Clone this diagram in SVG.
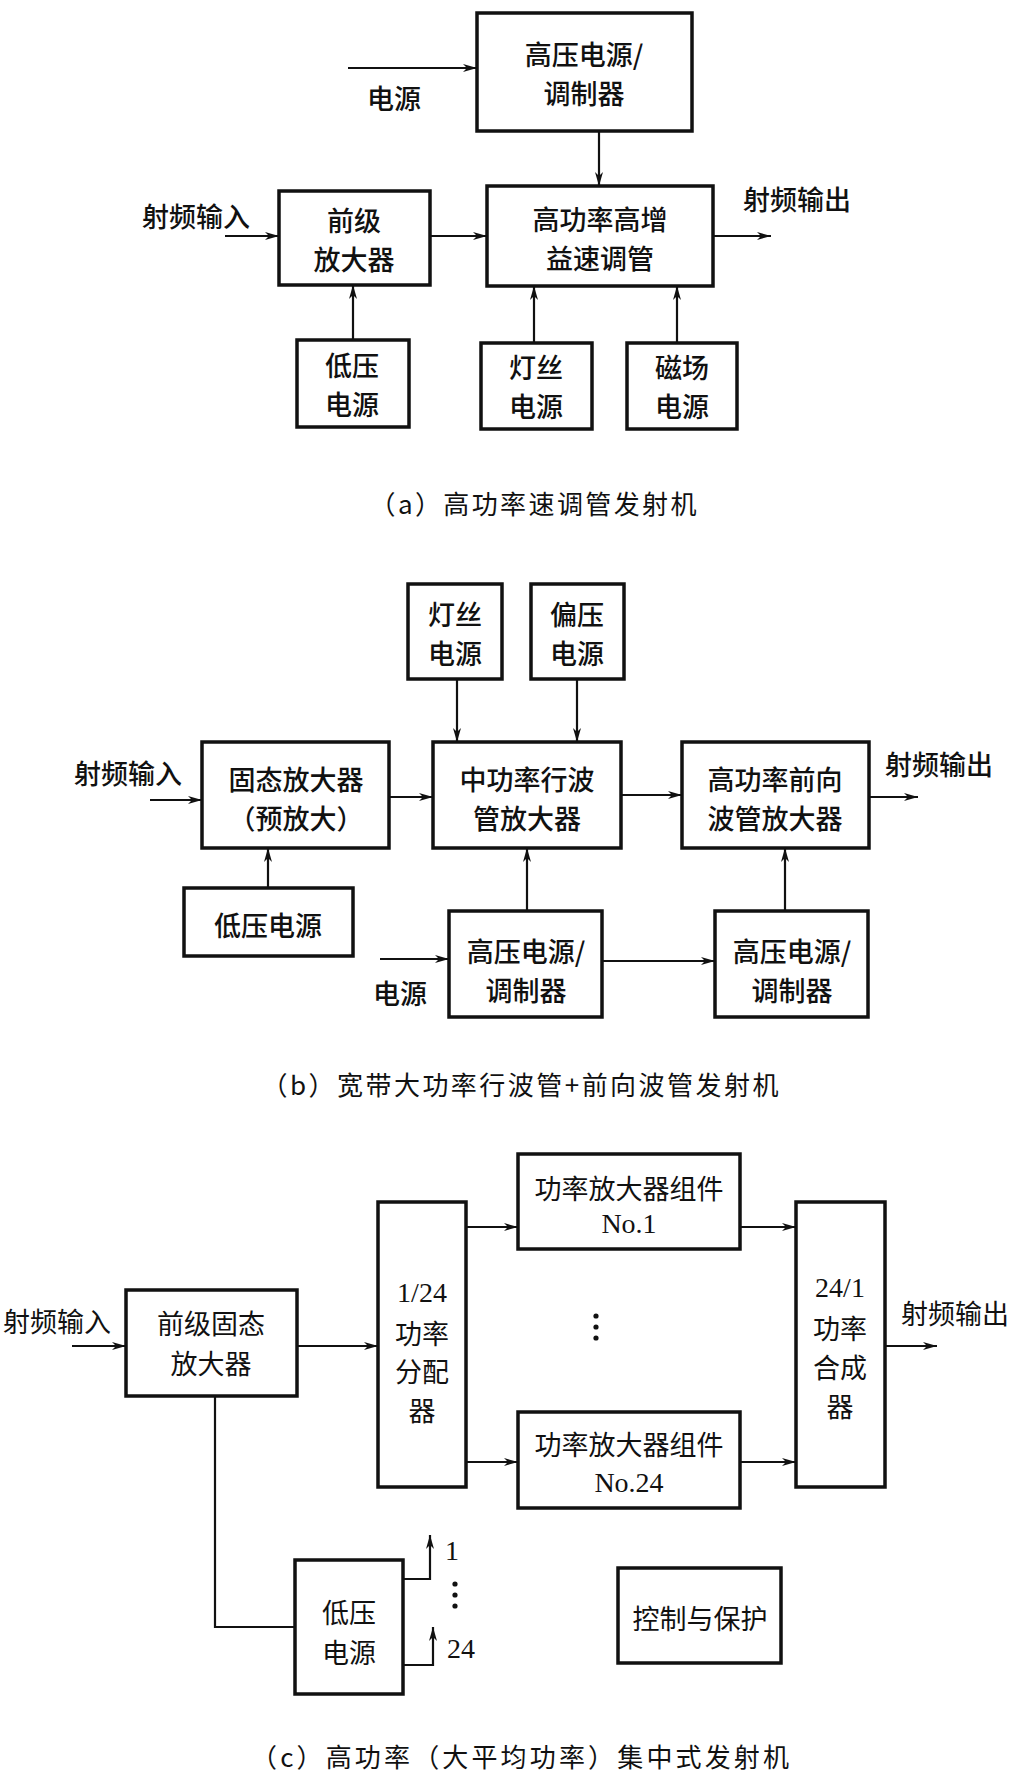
<svg xmlns="http://www.w3.org/2000/svg" width="1023" height="1778" viewBox="0 0 1023 1778">
<defs>
<marker id="ah" markerUnits="userSpaceOnUse" markerWidth="16" markerHeight="10" refX="14" refY="5" orient="auto">
<path d="M0,1 L14,5 L0,9 L4,5 z" fill="#111"/>
</marker>
<style>
.box{fill:#fff;stroke:#111;stroke-width:3.5}
.ln{fill:none;stroke:#111;stroke-width:2.2}
.ar{fill:none;stroke:#111;stroke-width:2.2;marker-end:url(#ah)}
text{font-family:"Noto Sans CJK SC","Liberation Sans",sans-serif;fill:#111;font-size:27px;text-anchor:middle;dominant-baseline:central}
.hb text{font-weight:500}
.cap{font-size:26px}
.num{font-family:"Liberation Serif","Noto Sans CJK SC",serif;font-size:28px}
</style>
</defs>
<rect width="1023" height="1778" fill="#fff"/>

<!-- ===== (a) ===== -->
<g class="hb">
<g id="a_hv"><rect class="box" x="477" y="13" width="215" height="118"/><text x="584" y="53">高压电源/</text><text x="584" y="92">调制器</text></g>
<g id="a_pre"><rect class="box" x="279" y="191" width="151" height="94"/><text x="354" y="219">前级</text><text x="354" y="258">放大器</text></g>
<g id="a_kly"><rect class="box" x="487" y="186" width="226" height="100"/><text x="600" y="218">高功率高增</text><text x="600" y="257">益速调管</text></g>
<g id="a_lv"><rect class="box" x="297" y="340" width="112" height="87"/><text x="352" y="364">低压</text><text x="352" y="403">电源</text></g>
<g id="a_fil"><rect class="box" x="481" y="343" width="111" height="86"/><text x="536" y="366">灯丝</text><text x="536" y="405">电源</text></g>
<g id="a_mag"><rect class="box" x="627" y="343" width="110" height="86"/><text x="682" y="366">磁场</text><text x="682" y="405">电源</text></g>
<g id="a_labels"><text x="394" y="97">电源</text><text x="196" y="215">射频输入</text><text x="797" y="198">射频输出</text></g>
</g>
<text class="cap" x="533" y="502" textLength="327" lengthAdjust="spacing">（a）高功率速调管发射机</text>

<!-- ===== (b) ===== -->
<g class="hb">
<g id="b_fil"><rect class="box" x="408" y="584" width="94" height="95"/><text x="455" y="613">灯丝</text><text x="455" y="652">电源</text></g>
<g id="b_bias"><rect class="box" x="531" y="584" width="93" height="95"/><text x="577" y="613">偏压</text><text x="577" y="652">电源</text></g>
<g id="b_ss"><rect class="box" x="202" y="742" width="187" height="106"/><text x="296" y="778">固态放大器</text><text x="296" y="817">（预放大）</text></g>
<g id="b_twt"><rect class="box" x="433" y="742" width="188" height="106"/><text x="527" y="778">中功率行波</text><text x="527" y="817">管放大器</text></g>
<g id="b_cfa"><rect class="box" x="682" y="742" width="187" height="106"/><text x="775" y="778">高功率前向</text><text x="775" y="817">波管放大器</text></g>
<g id="b_lv"><rect class="box" x="184" y="888" width="169" height="68"/><text x="268" y="924">低压电源</text></g>
<g id="b_hv1"><rect class="box" x="449" y="911" width="153" height="106"/><text x="526" y="950">高压电源/</text><text x="526" y="989">调制器</text></g>
<g id="b_hv2"><rect class="box" x="715" y="911" width="153" height="106"/><text x="792" y="950">高压电源/</text><text x="792" y="989">调制器</text></g>
<g id="b_labels"><text x="400" y="992">电源</text><text x="128" y="772">射频输入</text><text x="939" y="763">射频输出</text></g>
</g>
<text class="cap" x="520" y="1083" textLength="517" lengthAdjust="spacing">（b）宽带大功率行波管+前向波管发射机</text>

<!-- ===== (c) ===== -->
<g id="c_pre"><rect class="box" x="126" y="1290" width="171" height="106"/><text x="211" y="1322">前级固态</text><text x="211" y="1362">放大器</text></g>
<g id="c_div"><rect class="box" x="378" y="1202" width="88" height="285"/><text class="num" x="422" y="1292">1/24</text><text x="422" y="1332">功率</text><text x="422" y="1370">分配</text><text x="422" y="1409">器</text></g>
<g id="c_pa1"><rect class="box" x="518" y="1154" width="222" height="95"/><text x="629" y="1187">功率放大器组件</text><text class="num" x="629" y="1223">No.1</text></g>
<g id="c_pa24"><rect class="box" x="518" y="1412" width="222" height="96"/><text x="629" y="1443">功率放大器组件</text><text class="num" x="629" y="1482">No.24</text></g>
<g id="c_comb"><rect class="box" x="796" y="1202" width="89" height="285"/><text class="num" x="840" y="1287">24/1</text><text x="840" y="1327">功率</text><text x="840" y="1366">合成</text><text x="840" y="1405">器</text></g>
<g id="c_lv"><rect class="box" x="295" y="1560" width="108" height="134"/><text x="349" y="1611">低压</text><text x="349" y="1651">电源</text></g>
<g id="c_ctl"><rect class="box" x="618" y="1568" width="163" height="95"/><text x="700" y="1617">控制与保护</text></g>
<g id="c_labels"><text x="57" y="1320">射频输入</text><text x="955" y="1312">射频输出</text>
<text class="num" x="452" y="1550">1</text><text class="num" x="461" y="1648">24</text>
<circle cx="596" cy="1316" r="2.6" fill="#111"/><circle cx="596" cy="1327" r="2.6" fill="#111"/><circle cx="596" cy="1338" r="2.6" fill="#111"/>
<circle cx="455" cy="1584" r="2.6" fill="#111"/><circle cx="455" cy="1595" r="2.6" fill="#111"/><circle cx="455" cy="1606" r="2.6" fill="#111"/>
</g>
<text class="cap" x="520" y="1755" textLength="538" lengthAdjust="spacing">（c）高功率（大平均功率）集中式发射机</text>

<!-- ===== connectors ===== -->
<g id="connectors">
<line class="ar" x1="348" y1="68" x2="477" y2="68"/>
<line class="ar" x1="599" y1="131" x2="599" y2="186"/>
<line class="ar" x1="225" y1="236" x2="279" y2="236"/>
<line class="ar" x1="430" y1="236" x2="487" y2="236"/>
<line class="ar" x1="713" y1="236" x2="771" y2="236"/>
<line class="ar" x1="353" y1="340" x2="353" y2="285"/>
<line class="ar" x1="534" y1="343" x2="534" y2="286"/>
<line class="ar" x1="677" y1="343" x2="677" y2="286"/>

<line class="ar" x1="457" y1="679" x2="457" y2="742"/>
<line class="ar" x1="577" y1="679" x2="577" y2="742"/>
<line class="ar" x1="150" y1="800" x2="202" y2="800"/>
<line class="ar" x1="389" y1="797" x2="433" y2="797"/>
<line class="ar" x1="621" y1="795" x2="682" y2="795"/>
<line class="ar" x1="869" y1="797" x2="918" y2="797"/>
<line class="ar" x1="268" y1="888" x2="268" y2="848"/>
<line class="ar" x1="527" y1="911" x2="527" y2="848"/>
<line class="ar" x1="785" y1="911" x2="785" y2="848"/>
<line class="ar" x1="380" y1="959" x2="449" y2="959"/>
<line class="ar" x1="602" y1="961" x2="715" y2="961"/>

<line class="ar" x1="72" y1="1346" x2="126" y2="1346"/>
<line class="ar" x1="297" y1="1346" x2="378" y2="1346"/>
<line class="ar" x1="466" y1="1227" x2="518" y2="1227"/>
<line class="ar" x1="740" y1="1227" x2="796" y2="1227"/>
<line class="ar" x1="466" y1="1462" x2="518" y2="1462"/>
<line class="ar" x1="740" y1="1462" x2="796" y2="1462"/>
<line class="ar" x1="885" y1="1346" x2="937" y2="1346"/>
<polyline class="ln" points="215,1396 215,1627 295,1627"/>
<polyline class="ar" points="403,1579 430,1579 430,1535"/>
<polyline class="ar" points="403,1665 433,1665 433,1627"/>
</g>
</svg>
